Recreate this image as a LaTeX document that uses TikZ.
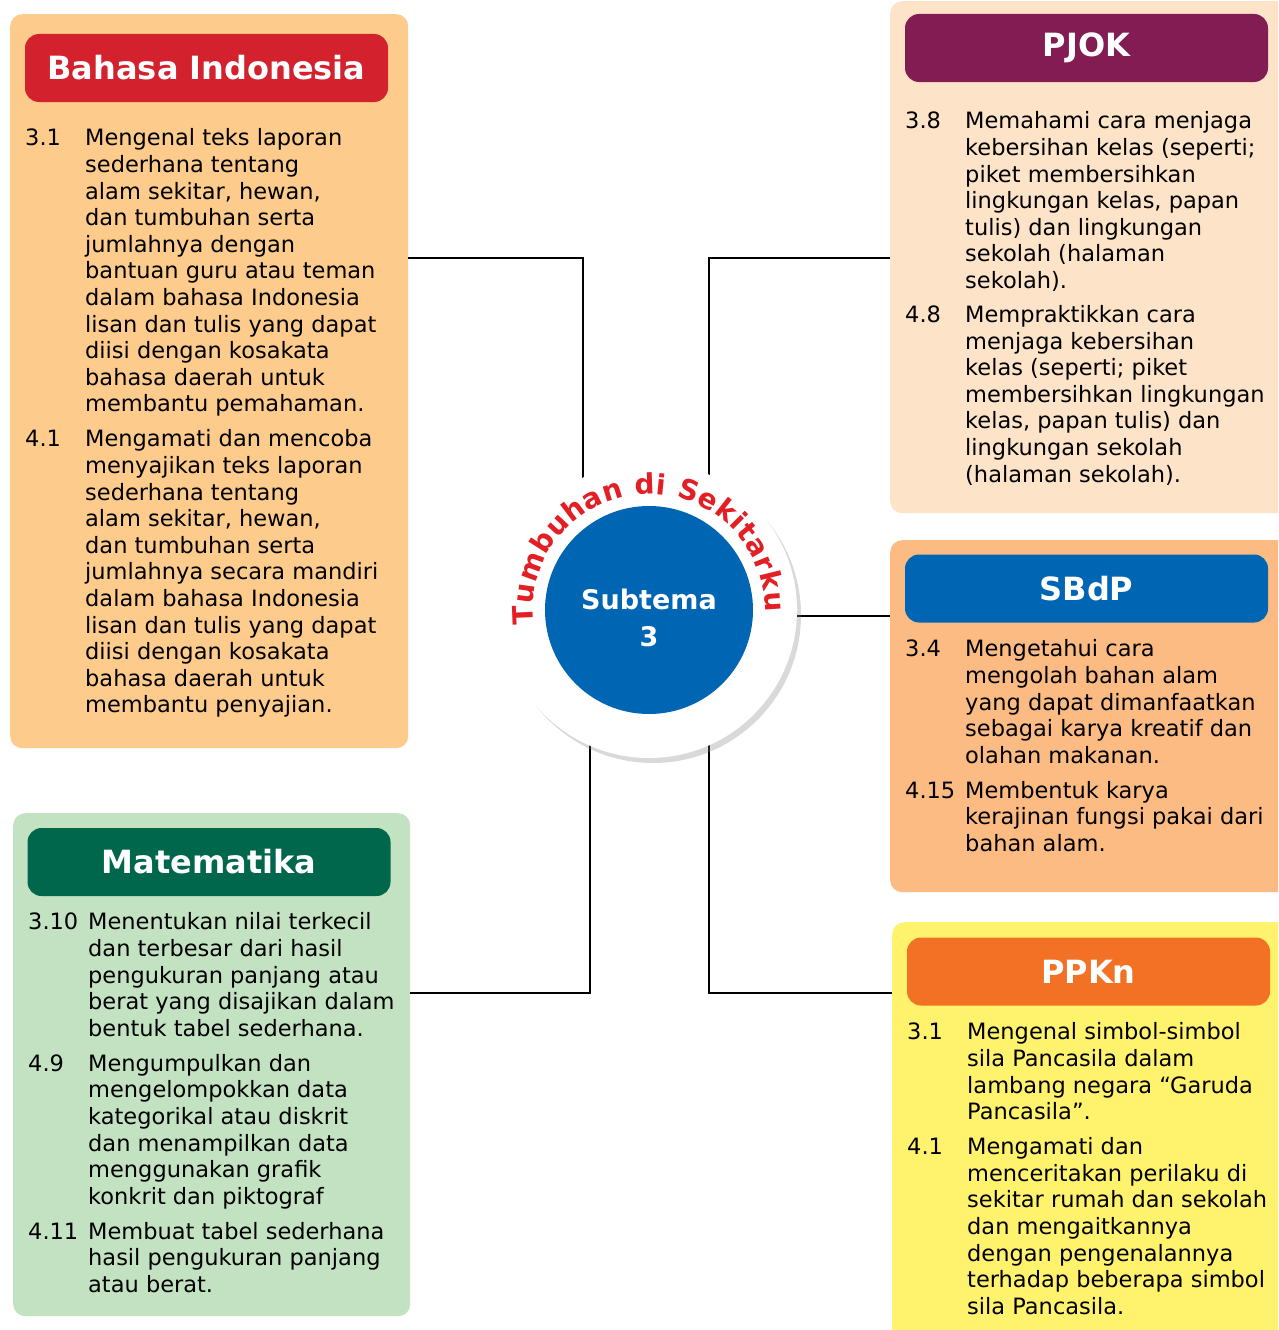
\documentclass[tikz,border=0pt]{standalone}
\usepackage{fontspec}
\setmainfont{DejaVu Sans}
\usetikzlibrary{positioning,shadows,decorations.text}

\definecolor{biback}{HTML}{FDCB8B}
\definecolor{bihead}{HTML}{D4212E}
\definecolor{pjback}{HTML}{FDE4C8}
\definecolor{pjhead}{HTML}{841C54}
\definecolor{sbback}{HTML}{FBBB83}
\definecolor{sbhead}{HTML}{0066B3}
\definecolor{ppback}{HTML}{FFF36E}
\definecolor{pphead}{HTML}{F37124}
\definecolor{mtback}{HTML}{C3E2C2}
\definecolor{mthead}{HTML}{00664C}
\definecolor{hubblue}{HTML}{0066B3}
\definecolor{arcred}{HTML}{E31E24}

\newcommand{\bodyfont}{\fontsize{22.5}{26.6}\selectfont}
\newcommand{\headfont}{\fontsize{32}{36}\selectfont\bfseries}
\newcommand{\hubfont}{\fontsize{27}{37}\selectfont\bfseries}
\newcommand{\arcfont}{\fontsize{28}{32}\selectfont\bfseries}

\begin{document}
\begin{tikzpicture}[x=1pt, y=-1pt,
  panel/.style={rounded corners=12pt, inner sep=0pt, anchor=north west},
  head/.style={rounded corners=14pt, minimum width=363pt, minimum height=68pt, inner sep=0pt, text=white, font=\headfont},
  body/.style={anchor=north west, inner sep=0pt, font=\bodyfont},
  link/.style={line width=2.4pt, black}
]
\useasboundingbox (0,0) rectangle (1278,1330);
\clip (0,0) rectangle (1278,1330);

% subject panels
\node[panel, fill=biback, minimum width=398pt, minimum height=734pt] (bi) at (10,14) {};
\node[panel, fill=pjback, minimum width=400pt, minimum height=512pt] (pj) at (890,1) {};
\node[panel, fill=sbback, minimum width=400pt, minimum height=352pt] (sb) at (890,540) {};
\node[panel, fill=ppback, minimum width=400pt, minimum height=420pt] (pp) at (892,922) {};
\node[panel, fill=mtback, minimum width=397pt, minimum height=503pt] (mt) at (13,813) {};

\node[head, fill=bihead] (bihd) at (206.5,68) {Bahasa Indonesia};
\node[head, fill=pjhead] (pjhd) at (1086.5,48) {PJOK};
\node[head, fill=sbhead] (sbhd) at (1086.5,588.5) {SBdP};
\node[head, fill=pphead] (pphd) at (1088.5,971.5) {PPKn};
\node[head, fill=mthead] (mthd) at (209,862) {Matematika};

% competencies
\node[body] (bitext) at (25,127) {\begin{tabular}{@{}p{60pt}@{}l@{}}
3.1 & Mengenal teks laporan\\
 & sederhana tentang\\
 & alam sekitar, hewan,\\
 & dan tumbuhan serta\\
 & jumlahnya dengan\\
 & bantuan guru atau teman\\
 & dalam bahasa Indonesia\\
 & lisan dan tulis yang dapat\\
 & diisi dengan kosakata\\
 & bahasa daerah untuk\\
 & membantu pemahaman.\\[8.4pt]
4.1 & Mengamati dan mencoba\\
 & menyajikan teks laporan\\
 & sederhana tentang\\
 & alam sekitar, hewan,\\
 & dan tumbuhan serta\\
 & jumlahnya secara mandiri\\
 & dalam bahasa Indonesia\\
 & lisan dan tulis yang dapat\\
 & diisi dengan kosakata\\
 & bahasa daerah untuk\\
 & membantu penyajian.
\end{tabular}};

\node[body] (pjtext) at (905,110) {\begin{tabular}{@{}p{60pt}@{}l@{}}
3.8 & Memahami cara menjaga\\
 & kebersihan kelas (seperti;\\
 & piket membersihkan\\
 & lingkungan kelas, papan\\
 & tulis) dan lingkungan\\
 & sekolah (halaman\\
 & sekolah).\\[7.4pt]
4.8 & Mempraktikkan cara\\
 & menjaga kebersihan\\
 & kelas (seperti; piket\\
 & membersihkan lingkungan\\
 & kelas, papan tulis) dan\\
 & lingkungan sekolah\\
 & (halaman sekolah).
\end{tabular}};

\node[body] (sbtext) at (905,638) {\begin{tabular}{@{}p{60pt}@{}l@{}}
3.4 & Mengetahui cara\\
 & mengolah bahan alam\\
 & yang dapat dimanfaatkan\\
 & sebagai karya kreatif dan\\
 & olahan makanan.\\[8.4pt]
4.15 & Membentuk karya\\
 & kerajinan fungsi pakai dari\\
 & bahan alam.
\end{tabular}};

\node[body] (pptext) at (907,1021) {\begin{tabular}{@{}p{60pt}@{}l@{}}
3.1 & Mengenal simbol-simbol\\
 & sila Pancasila dalam\\
 & lambang negara “Garuda\\
 & Pancasila”.\\[8.4pt]
4.1 & Mengamati dan\\
 & menceritakan perilaku di\\
 & sekitar rumah dan sekolah\\
 & dan mengaitkannya\\
 & dengan pengenalannya\\
 & terhadap beberapa simbol\\
 & sila Pancasila.
\end{tabular}};

\node[body] (mttext) at (28,911) {\begin{tabular}{@{}p{60pt}@{}l@{}}
3.10 & Menentukan nilai terkecil\\
 & dan terbesar dari hasil\\
 & pengukuran panjang atau\\
 & berat yang disajikan dalam\\
 & bentuk tabel sederhana.\\[8.4pt]
4.9 & Mengumpulkan dan\\
 & mengelompokkan data\\
 & kategorikal atau diskrit\\
 & dan menampilkan data\\
 & menggunakan grafik\\
 & konkrit dan piktograf\\[8.4pt]
4.11 & Membuat tabel sederhana\\
 & hasil pengukuran panjang\\
 & atau berat.
\end{tabular}};

% connectors to the hub
\coordinate (hubc) at (649,610);
\coordinate (jbi) at (583,258);
\coordinate (jpj) at (709,258);
\coordinate (jsb) at (760,616);
\coordinate (jmt) at (590,993);
\coordinate (jpp) at (709,993);
\draw[link] (bi.east |- jbi) -- (jbi) -- (jbi |- hubc);
\draw[link] (pj.west |- jpj) -- (jpj) -- (jpj |- hubc);
\draw[link] (jsb) -- (jsb -| sb.west);
\draw[link] (mt.east |- jmt) -- (jmt) -- (jmt |- hubc);
\draw[link] (pp.west |- jpp) -- (jpp) -- (jpp |- hubc);

% hub
\node[circle, fill=white, minimum size=296pt, inner sep=0pt,
  drop shadow={opacity=0.3, shadow xshift=4pt, shadow yshift=-5pt}] (hub) at (hubc) {};
\node[circle, fill=hubblue, minimum size=208pt, inner sep=0pt] (core) at (hubc) {};
\node[text=white, font=\hubfont, align=center] (corelabel) at (649,618) {Subtema\\3};
\begin{scope}[shift={(hubc)}, x=1pt, y=1pt]
\path[decorate, decoration={text along path, text align=fit to path,
  text color=arcred, text={|\arcfont|Tumbuhan di Sekitarku}}]
  (187:116) arc[start angle=187, end angle=-1, radius=116];
\end{scope}
\end{tikzpicture}
\end{document}
